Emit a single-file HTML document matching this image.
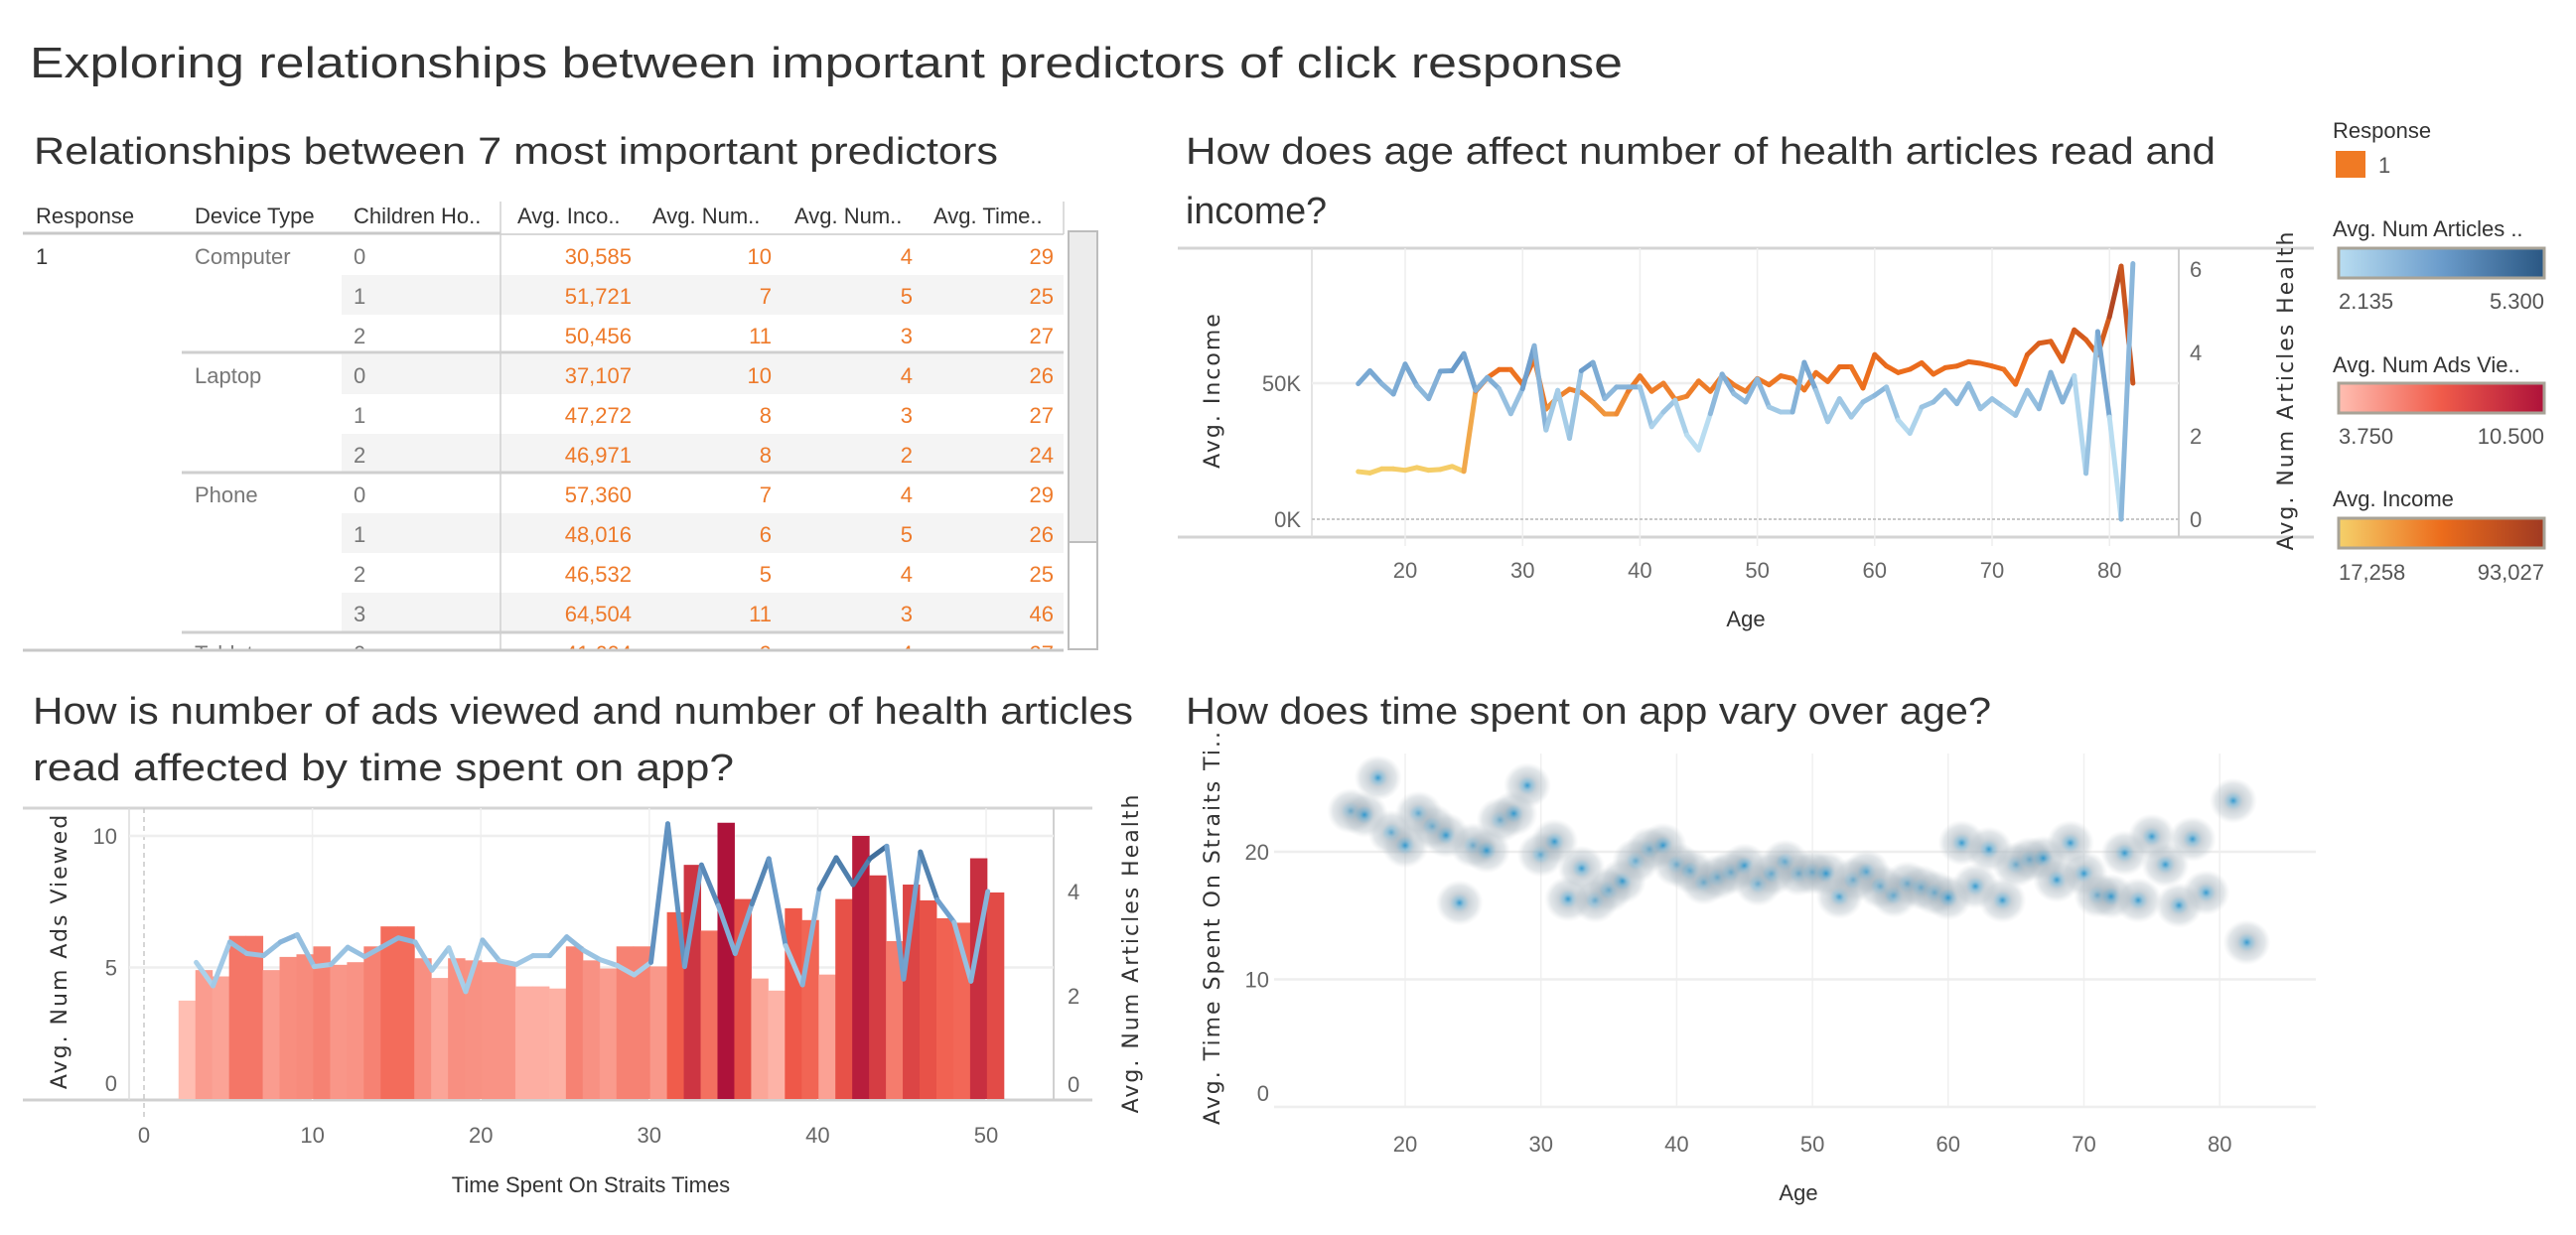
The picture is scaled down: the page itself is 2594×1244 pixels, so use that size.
<!DOCTYPE html>
<html><head><meta charset="utf-8">
<style>
html,body{margin:0;padding:0;background:#fff;}
svg{display:block;font-family:"Liberation Sans",sans-serif;}
</style></head>
<body>
<svg id="root" width="2594" height="1244" viewBox="0 0 2594 1244" xmlns="http://www.w3.org/2000/svg">
<defs>
<linearGradient id="gBlue" x1="0" x2="1"><stop offset="0" stop-color="#b9ddf1"/><stop offset="0.5" stop-color="#6b9ccb"/><stop offset="1" stop-color="#2a5783"/></linearGradient>
<linearGradient id="gRed" x1="0" x2="1"><stop offset="0" stop-color="#ffbeb2"/><stop offset="0.5" stop-color="#f05b4a"/><stop offset="1" stop-color="#ae123a"/></linearGradient>
<linearGradient id="gOrange" x1="0" x2="1"><stop offset="0" stop-color="#f5d06a"/><stop offset="0.5" stop-color="#ec6c1c"/><stop offset="1" stop-color="#a03a22"/></linearGradient>
<radialGradient id="gDot"><stop offset="0" stop-color="#1e90cc" stop-opacity="0.9"/><stop offset="0.18" stop-color="#4f98bf" stop-opacity="0.6"/><stop offset="0.4" stop-color="#9eadb8" stop-opacity="0.55"/><stop offset="0.75" stop-color="#b8c2c9" stop-opacity="0.4"/><stop offset="1" stop-color="#d0d6da" stop-opacity="0"/></radialGradient>
<clipPath id="tblClip"><rect x="0" y="200" width="1075" height="454"/></clipPath>
</defs>

<text x="30" y="78" font-size="44" fill="#333" textLength="1604" lengthAdjust="spacingAndGlyphs">Exploring relationships between important predictors of click response</text>
<text x="34" y="165" font-size="38" fill="#333" textLength="971" lengthAdjust="spacingAndGlyphs">Relationships between 7 most important predictors</text>
<text x="1194" y="165" font-size="38" fill="#333" textLength="1037" lengthAdjust="spacingAndGlyphs">How does age affect number of health articles read and</text>
<text x="1194" y="225" font-size="38" fill="#333" textLength="142" lengthAdjust="spacingAndGlyphs">income?</text>
<text x="33" y="729" font-size="38" fill="#333" textLength="1108" lengthAdjust="spacingAndGlyphs">How is number of ads viewed and number of health articles</text>
<text x="33" y="786" font-size="38" fill="#333" textLength="706" lengthAdjust="spacingAndGlyphs">read affected by time spent on app?</text>
<text x="1194" y="729" font-size="38" fill="#333" textLength="811" lengthAdjust="spacingAndGlyphs">How does time spent on app vary over age?</text>

<!-- Legends -->
<g font-size="22" fill="#333">
<text x="2349" y="139">Response</text>
<rect x="2352" y="152" width="30" height="27" fill="#f07a24"/>
<text x="2395" y="174" fill="#555">1</text>
<text x="2349" y="238">Avg. Num Articles ..</text>
<rect x="2355" y="250" width="207" height="30" fill="url(#gBlue)" stroke="#a8a397" stroke-width="3"/>
<text x="2355" y="311" fill="#555">2.135</text>
<text x="2562" y="311" fill="#555" text-anchor="end">5.300</text>
<text x="2349" y="375">Avg. Num Ads Vie..</text>
<rect x="2355" y="386" width="207" height="30" fill="url(#gRed)" stroke="#a8a397" stroke-width="3"/>
<text x="2355" y="447" fill="#555">3.750</text>
<text x="2562" y="447" fill="#555" text-anchor="end">10.500</text>
<text x="2349" y="510">Avg. Income</text>
<rect x="2355" y="522" width="207" height="30" fill="url(#gOrange)" stroke="#a8a397" stroke-width="3"/>
<text x="2355" y="584" fill="#555">17,258</text>
<text x="2562" y="584" fill="#555" text-anchor="end">93,027</text>
</g>

<g id="table"></g>
<g id="ageChart"></g>
<g id="timeChart"></g>
<g id="scatter"></g>
</svg>

<script>
// ---------- Data ----------
const tableDevices = ["Computer","Computer","Computer","Laptop","Laptop","Laptop","Phone","Phone","Phone","Phone","Tablet"];
const tableChildren = ["0","1","2","0","1","2","0","1","2","3","0"];
const tableIncome = ["30,585","51,721","50,456","37,107","47,272","46,971","57,360","48,016","46,532","64,504","41,604"];
const tableAds = ["10","7","11","10","8","8","7","6","5","11","9"];
const tableArticles = ["4","5","3","4","3","2","4","5","4","3","4"];
const tableTime = ["29","25","27","26","27","24","29","26","25","46","27"];

const ages = [16,17,18,19,20,21,22,23,24,25,26,27,28,29,30,31,32,33,34,35,36,37,38,39,40,41,42,43,44,45,46,47,48,49,50,51,52,53,54,55,56,57,58,59,60,61,62,63,64,65,66,67,68,69,70,71,72,73,74,75,76,77,78,79,80,81,82];
const incomeByAge = [17500,17000,18500,18500,18000,19000,18000,18300,19400,17600,47000,52000,55000,55000,49600,59000,40500,44800,47800,46600,43000,38700,38700,47000,52700,47000,50000,44000,45200,50800,47000,52700,49400,47000,51700,49400,52700,51700,47500,53900,50600,56000,56000,48200,60500,56300,53900,55100,57500,53300,55700,56300,57900,57300,56300,55100,49600,60500,64700,65400,58100,69600,66000,60500,74400,93027,50000];
const articlesByAge = [3.25,3.56,3.25,3.0,3.72,3.2,2.89,3.55,3.56,3.97,3.09,3.4,3.13,2.53,3.13,4.16,2.14,3.09,1.94,3.56,3.76,2.89,3.17,3.17,3.17,2.22,2.57,2.85,2.02,1.66,2.53,3.48,3.01,2.81,3.36,2.69,2.57,2.57,3.76,3.09,2.34,2.89,2.45,2.81,2.97,3.17,2.38,2.06,2.69,2.81,3.09,2.77,3.25,2.65,2.89,2.69,2.49,3.09,2.65,3.52,2.81,3.44,1.1,4.5,2.45,0.0,6.13];

const timeBins = [2,3,4,5,6,7,8,9,10,11,12,13,14,15,16,17,18,19,20,21,22,23,24,25,26,27,28,29,30,31,32,33,34,35,36,37,38,39,40,41,42,43,44,45,46,47,48,49,50];
const adsByTime = [3.74,4.9,4.66,6.2,6.2,4.9,5.4,5.5,5.8,5.1,5.2,5.8,6.56,6.56,5.35,4.6,5.35,5.27,5.2,5.2,4.28,4.28,4.2,5.8,5.27,4.96,5.8,5.8,5.04,7.1,8.9,6.4,10.5,7.6,4.58,4.12,7.25,6.8,4.73,7.6,10.0,8.5,6.0,8.15,7.55,6.87,6.7,9.15,7.85];
const lineTimes = [3,4,5,6,7,8,9,10,11,12,13,14,15,16,17,18,19,20,21,22,23,24,25,26,27,28,29,30,31,32,33,34,35,36,37,38,39,40,41,42,43,44,45,46,47,48,49,50];
const articlesByTime = [2.64,2.19,3.03,2.81,2.77,3.03,3.17,2.56,2.6,2.93,2.75,2.93,3.11,3.03,2.49,2.92,2.08,3.07,2.67,2.6,2.77,2.77,3.13,2.87,2.69,2.58,2.4,2.64,5.3,2.56,4.51,3.73,2.81,3.76,4.63,2.96,2.21,4.05,4.65,4.13,4.63,4.87,2.32,4.76,3.84,3.41,2.28,4.0];

const scatterAges = [16,17,18,19,20,21,22,23,24,25,26,27,28,29,30,31,32,33,34,35,36,37,38,39,40,41,42,43,44,45,46,47,48,49,50,51,52,53,54,55,56,57,58,59,60,61,62,63,64,65,66,67,68,69,70,71,72,73,74,75,76,77,78,79,81,82];
const scatterTime = [23.2,22.9,25.8,21.5,20.5,23,22,21.3,16,20.5,20.1,22.5,23,25.2,19.8,20.8,16.3,18.7,16.2,17,17.7,19.3,20.2,20.5,19,18.5,17.6,18,18.4,18.9,17.5,18.3,19.2,18.3,18.4,18.3,16.5,17.8,18.4,17.3,16.6,17.5,17.2,16.8,16.4,20.7,17.3,20.2,16.2,19,19.4,19.5,17.8,20.7,18.3,16.6,16.5,19.9,16.2,21.2,19,15.8,21,16.8,24,12.9];

const ageTicks = [20,30,40,50,60,70,80];
const timeTicks = [0,10,20,30,40,50];

// ---------- helpers ----------
const NS = "http://www.w3.org/2000/svg";
function mk(parent, tag, attrs, text){
  const e = document.createElementNS(NS, tag);
  for (const k in attrs) e.setAttribute(k, attrs[k]);
  if (text !== undefined) e.textContent = text;
  parent.appendChild(e);
  return e;
}
function hex(c){return [parseInt(c.slice(1,3),16),parseInt(c.slice(3,5),16),parseInt(c.slice(5,7),16)];}
function ramp(stops, t){
  t = Math.max(0, Math.min(1, t));
  const n = stops.length - 1, i = Math.min(n - 1, Math.floor(t * n)), f = t * n - i;
  const a = hex(stops[i]), b = hex(stops[i+1]);
  return "rgb(" + a.map((v,j)=>Math.round(v + (b[j]-v)*f)).join(",") + ")";
}
const blueStops = ["#b9ddf1","#6b9ccb","#2a5783"];
const redStops = ["#ffbeb2","#f05b4a","#ae123a"];
const orangeStops = ["#f5d06a","#ec6c1c","#a03a22"];

// ---------- Table ----------
(function(){
  const g = document.getElementById("table");
  const hdr = [["Response",36],["Device Type",196],["Children Ho..",356],["Avg. Inco..",521],["Avg. Num..",657],["Avg. Num..",800],["Avg. Time..",940]];
  hdr.forEach(h=>{
    const t = mk(g,"text",{x:h[1],y:225,"font-size":22,fill:"#333"},h[0]);
    
    
  });
  const body = mk(g,"g",{"clip-path":"url(#tblClip)"});
  for (let k=0;k<tableDevices.length;k++){
    const top = 237 + 40*k, base = top + 29;
    if (k % 2 === 1) {
      const r = mk(body,"rect",{x:344,y:top,width:727,height:40,fill:"#f4f4f4"});
      
      
    }
    if (k===0 || tableDevices[k]!==tableDevices[k-1]) {
      const d = mk(body,"text",{x:196,y:base,"font-size":22,fill:"#777"},tableDevices[k]);
      
      
    }
    const c = mk(body,"text",{x:356,y:base,"font-size":22,fill:"#777"},tableChildren[k]);
    
    
    [[tableIncome,636],[tableAds,777],[tableArticles,919],[tableTime,1061]].forEach(col=>{
      const v = mk(body,"text",{x:col[1],y:base,"font-size":22,fill:"#ee7a2a","text-anchor":"end"},col[0][k]);
      
      
    });
  }
  const resp = mk(g,"text",{x:36,y:266,"font-size":22,fill:"#333"},"1");
  
  
  [355,476,637].forEach(y=>mk(g,"line",{x1:183,x2:1071,y1:y,y2:y,stroke:"#cfcfcf","stroke-width":3}));
  mk(g,"line",{x1:23,x2:504,y1:235,y2:235,stroke:"#c8c8c8","stroke-width":3});
  mk(g,"line",{x1:504,x2:1071,y1:236,y2:236,stroke:"#d8d8d8","stroke-width":2});
  mk(g,"line",{x1:504,x2:504,y1:203,y2:656,stroke:"#d0d0d0","stroke-width":1.5});
  mk(g,"line",{x1:1071,x2:1071,y1:203,y2:236,stroke:"#d0d0d0","stroke-width":1.5});
  mk(g,"line",{x1:23,x2:1071,y1:655,y2:655,stroke:"#c8c8c8","stroke-width":3});
  const sb = mk(g,"rect",{x:1076,y:233,width:29,height:421,fill:"#fff",stroke:"#bdbdbd","stroke-width":2});
  
  
  const th = mk(g,"rect",{x:1076,y:233,width:29,height:313,fill:"#ececec",stroke:"#bdbdbd","stroke-width":2});
  
  
})();

// ---------- Age chart ----------
(function(){
  const g = document.getElementById("ageChart");
  const xA = a => 1415 + (a-20)*11.82;
  const yI = v => 523 - v/50000*137;
  const yR = v => 523 - v*42;
  mk(g,"line",{x1:1186,x2:2330,y1:250,y2:250,stroke:"#d4d4d4","stroke-width":3});
  mk(g,"line",{x1:1186,x2:2330,y1:541,y2:541,stroke:"#d4d4d4","stroke-width":3});
  mk(g,"line",{x1:1321,x2:1321,y1:250,y2:541,stroke:"#dcdcdc","stroke-width":1.5});
  mk(g,"line",{x1:2194,x2:2194,y1:250,y2:541,stroke:"#d0d0d0","stroke-width":2});
  ageTicks.forEach(a=>{
    mk(g,"line",{x1:xA(a),x2:xA(a),y1:250,y2:550,stroke:"#eeeeee","stroke-width":1.5});
    const t = mk(g,"text",{x:xA(a),y:582,"font-size":22,fill:"#666","text-anchor":"middle"},String(a));
    
    
  });
  mk(g,"line",{x1:1321,x2:2194,y1:yI(50000),y2:yI(50000),stroke:"#eeeeee","stroke-width":2.5});
  mk(g,"line",{x1:1321,x2:2194,y1:yI(0),y2:yI(0),stroke:"#c8c8c8","stroke-width":2,"stroke-dasharray":"3,2"});
  [[50000,"50K"],[0,"0K"]].forEach(p=>{
    const t = mk(g,"text",{x:1310,y:yI(p[0])+8,"font-size":22,fill:"#666","text-anchor":"end"},p[1]);
    
    
  });
  [0,2,4,6].forEach(v=>{
    const t = mk(g,"text",{x:2205,y:yR(v)+8,"font-size":22,fill:"#666"},String(v));
    
    
  });
  const yl = mk(g,"text",{x:0,y:0,"font-size":22,fill:"#333","text-anchor":"middle","letter-spacing":"2","font-family":"DejaVu Sans, sans-serif",transform:"translate(1228,393) rotate(-90)"},"Avg. Income");
  
  
  const yr = mk(g,"text",{x:0,y:0,"font-size":22,fill:"#333","text-anchor":"middle","letter-spacing":"2","font-family":"DejaVu Sans, sans-serif",transform:"translate(2309,393) rotate(-90)"},"Avg. Num Articles Health");
  
  
  const xl = mk(g,"text",{x:1758,y:631,"font-size":22,fill:"#333","text-anchor":"middle"},"Age");
  
  
  for (let i=0;i<ages.length-1;i++){
    const s = mk(g,"line",{x1:xA(ages[i]),y1:yI(incomeByAge[i]),x2:xA(ages[i+1]),y2:yI(incomeByAge[i+1]),
      stroke:ramp(orangeStops,((incomeByAge[i]+incomeByAge[i+1])/2-17258)/(93027-17258)),"stroke-width":5,"stroke-linecap":"round"});
    
    
  }
  for (let i=0;i<ages.length-1;i++){
    const s = mk(g,"line",{x1:xA(ages[i]),y1:yR(articlesByAge[i]),x2:xA(ages[i+1]),y2:yR(articlesByAge[i+1]),
      stroke:ramp(blueStops,((articlesByAge[i]+articlesByAge[i+1])/2-2.135)/(5.3-2.135)),"stroke-width":5,"stroke-linecap":"round"});
    
    
  }
})();

// ---------- Time chart ----------
(function(){
  const g = document.getElementById("timeChart");
  const xT = t => 145 + t*16.96;
  const yL = v => 1107 - v*26.5;
  const yR = v => 1108 - v*52.5;
  mk(g,"line",{x1:23,x2:1100,y1:814,y2:814,stroke:"#d4d4d4","stroke-width":3});
  mk(g,"line",{x1:23,x2:1100,y1:1108,y2:1108,stroke:"#d0d0d0","stroke-width":3});
  mk(g,"line",{x1:130,x2:130,y1:814,y2:1108,stroke:"#dcdcdc","stroke-width":1.5});
  mk(g,"line",{x1:1061,x2:1061,y1:814,y2:1108,stroke:"#d0d0d0","stroke-width":2});
  timeTicks.forEach(t=>{
    if (t>0) mk(g,"line",{x1:xT(t),x2:xT(t),y1:814,y2:1108,stroke:"#efefef","stroke-width":1.5});
    const l = mk(g,"text",{x:xT(t),y:1151,"font-size":22,fill:"#666","text-anchor":"middle"},String(t));
    
    
  });
  mk(g,"line",{x1:xT(0),x2:xT(0),y1:814,y2:1125,stroke:"#c8c8c8","stroke-width":1.5,"stroke-dasharray":"5,4"});
  [5,10].forEach(v=>mk(g,"line",{x1:130,x2:1061,y1:yL(v),y2:yL(v),stroke:"#eeeeee","stroke-width":2.5}));
  [0,5,10].forEach(v=>{
    const l = mk(g,"text",{x:118,y:yL(v)+(v===0?-8:8),"font-size":22,fill:"#666","text-anchor":"end"},String(v));
    
    
  });
  [0,2,4].forEach(v=>{
    const l = mk(g,"text",{x:1075,y:yR(v)+(v===0?-8:8),"font-size":22,fill:"#666"},String(v));
    
    
  });
  for (let i=0;i<timeBins.length;i++){
    const v = adsByTime[i];
    const b = mk(g,"rect",{x:xT(timeBins[i]+0.05),y:yL(v),width:16.96*1.0+0.5,height:yL(0)-yL(v),fill:ramp(redStops,(v-3.75)/(10.5-3.75))});
    
    
  }
  for (let i=0;i<lineTimes.length-1;i++){
    const s = mk(g,"line",{x1:xT(lineTimes[i]+0.1),y1:yR(articlesByTime[i]),x2:xT(lineTimes[i+1]+0.1),y2:yR(articlesByTime[i+1]),
      stroke:ramp(blueStops,((articlesByTime[i]+articlesByTime[i+1])/2-2.135)/(5.3-2.135)),"stroke-width":5,"stroke-linecap":"round"});
    
    
  }
  const yl = mk(g,"text",{x:0,y:0,"font-size":22,fill:"#333","text-anchor":"middle","letter-spacing":"2","font-family":"DejaVu Sans, sans-serif",transform:"translate(67,958) rotate(-90)"},"Avg. Num Ads Viewed");
  
  
  const yr = mk(g,"text",{x:0,y:0,"font-size":22,fill:"#333","text-anchor":"middle","letter-spacing":"2","font-family":"DejaVu Sans, sans-serif",transform:"translate(1146,960) rotate(-90)"},"Avg. Num Articles Health");
  
  
  const xl = mk(g,"text",{x:595,y:1201,"font-size":22,fill:"#333","text-anchor":"middle"},"Time Spent On Straits Times");
  
  
})();

// ---------- Scatter ----------
(function(){
  const g = document.getElementById("scatter");
  const xA = a => 1415 + (a-20)*13.67;
  const yT = v => 1115 - v*12.85;
  ageTicks.forEach(a=>{
    mk(g,"line",{x1:xA(a),x2:xA(a),y1:759,y2:1115,stroke:"#f0f0f0","stroke-width":1.5});
    const l = mk(g,"text",{x:xA(a),y:1160,"font-size":22,fill:"#666","text-anchor":"middle"},String(a));
    
    
  });
  [0,10,20].forEach(v=>{
    mk(g,"line",{x1:1283,x2:2332,y1:yT(v),y2:yT(v),stroke:"#eeeeee","stroke-width":2.5});
    const l = mk(g,"text",{x:1278,y:yT(v)+(v===0?-6:8),"font-size":22,fill:"#666","text-anchor":"end"},String(v));
    
    
  });
  for (let i=0;i<scatterAges.length;i++){
    const c = mk(g,"ellipse",{cx:xA(scatterAges[i]),cy:yT(scatterTime[i]),rx:24,ry:23,fill:"url(#gDot)"});
    
    
  }
  const yl = mk(g,"text",{x:0,y:0,"font-size":22,fill:"#333","text-anchor":"middle","letter-spacing":"2","font-family":"DejaVu Sans, sans-serif",transform:"translate(1228,934) rotate(-90)"},"Avg. Time Spent On Straits Ti..");
  
  
  const xl = mk(g,"text",{x:1811,y:1209,"font-size":22,fill:"#333","text-anchor":"middle"},"Age");
  
  
})();
</script>
</body></html>
